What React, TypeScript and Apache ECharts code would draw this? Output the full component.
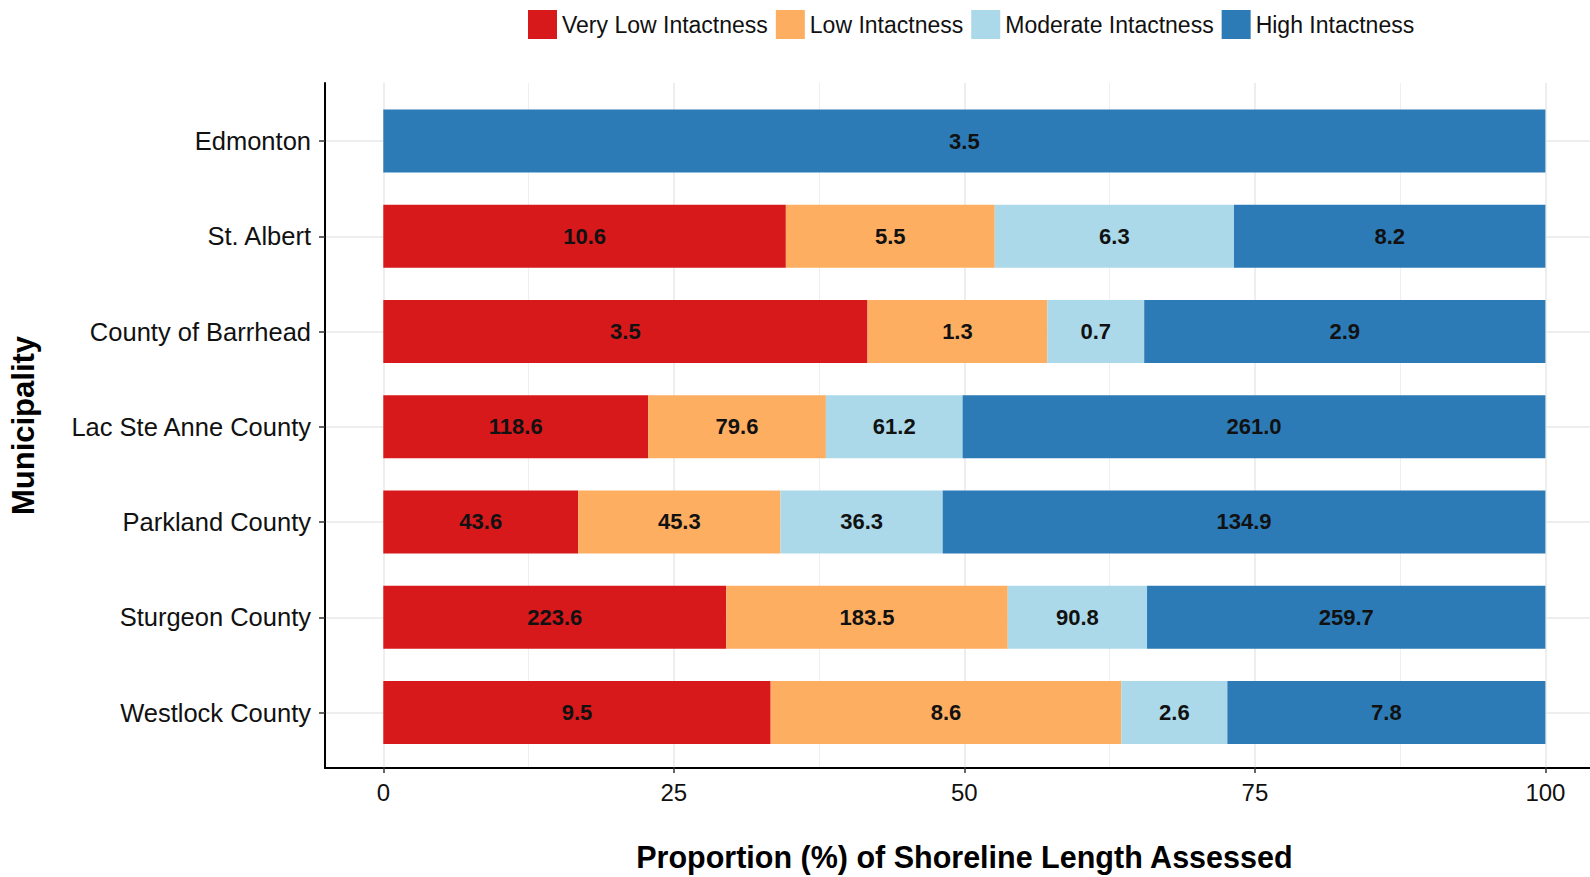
import React, { useEffect, useRef } from "react";
import * as echarts from "echarts";

const categories = [
  "Edmonton",
  "St. Albert",
  "County of Barrhead",
  "Lac Ste Anne County",
  "Parkland County",
  "Sturgeon County",
  "Westlock County",
];
const seriesNames = ["Very Low Intactness", "Low Intactness", "Moderate Intactness", "High Intactness"];
const veryLow = [0, 10.6, 3.5, 118.6, 43.6, 223.6, 9.5];
const low = [0, 5.5, 1.3, 79.6, 45.3, 183.5, 8.6];
const moderate = [0, 6.3, 0.7, 61.2, 36.3, 90.8, 2.6];
const high = [3.5, 8.2, 2.9, 261.0, 134.9, 259.7, 7.8];
const xTicks = [0, 25, 50, 75, 100];
const colors = ["#d7191c", "#fdae61", "#abd9e9", "#2c7bb6"];

const FONT = "'Liberation Sans', Arial, Helvetica, sans-serif";

export default function App() {
  const ref = useRef<HTMLDivElement>(null);
  useEffect(() => {
    if (!ref.current) return;
    const chart = echarts.init(ref.current, null, { renderer: "svg" });
    const raw = [veryLow, low, moderate, high];
    const totals = categories.map((_, i) => raw.reduce((s, arr) => s + arr[i], 0));
    const gridLineColor = "#e8e8e8";

    chart.setOption({
      animation: false,
      backgroundColor: "#ffffff",
      textStyle: { fontFamily: FONT },
      legend: {
        data: seriesNames,
        left: 523,
        top: 5,
        itemWidth: 29,
        itemHeight: 29,
        itemGap: 8,
        icon: "rect",
        textStyle: { fontSize: 23, color: "#111", fontFamily: FONT },
      },
      grid: [
        { left: 325, right: 0, top: 83, bottom: 109 },
        { left: 383.3, right: 44.6, top: 83, bottom: 109 },
        { left: 325, right: 0, top: 141, bottom: 164.5 },
        { left: 383.3, right: 44.6, top: 93.4, bottom: 116.9 },
      ],
      xAxis: [
        {
          gridIndex: 0,
          type: "value",
          min: 0,
          max: 1,
          axisLine: { show: true, lineStyle: { color: "#000", width: 2 } },
          axisTick: { show: false },
          axisLabel: { show: false },
          splitLine: { show: false },
        },
        {
          gridIndex: 1,
          type: "value",
          min: xTicks[0],
          max: xTicks[xTicks.length - 1],
          interval: 25,
          axisLine: { show: false },
          axisTick: { show: true, length: 6, lineStyle: { color: "#333", width: 1.5 } },
          axisLabel: { fontSize: 24, color: "#111", margin: 13, fontFamily: FONT },
          splitLine: { show: true, lineStyle: { color: gridLineColor, width: 1.5 } },
          minorTick: { show: false, splitNumber: 2 },
          minorSplitLine: { show: true, lineStyle: { color: "#efefef", width: 1 } },
          name: "Proportion (%) of Shoreline Length Assessed",
          nameLocation: "middle",
          nameGap: 74,
          nameTextStyle: { fontSize: 30.5, fontWeight: "bold", color: "#000", fontFamily: FONT },
        },
        { gridIndex: 2, type: "value", show: false },
        { gridIndex: 3, type: "value", min: 0, max: 100, show: false },
      ],
      yAxis: [
        {
          gridIndex: 0,
          type: "value",
          min: 0,
          max: 1,
          axisLine: { show: true, lineStyle: { color: "#000", width: 2 } },
          axisTick: { show: false },
          axisLabel: { show: false },
          splitLine: { show: false },
          name: "Municipality",
          nameLocation: "middle",
          nameGap: 286,
          nameTextStyle: { fontSize: 31, fontWeight: "bold", color: "#000", fontFamily: FONT },
        },
        { gridIndex: 1, type: "value", show: false },
        {
          gridIndex: 2,
          type: "category",
          data: categories,
          inverse: true,
          boundaryGap: false,
          axisLine: { show: false },
          axisTick: { show: true, length: 6, lineStyle: { color: "#333", width: 1.5 } },
          axisLabel: { fontSize: 25.5, color: "#111", margin: 14, fontFamily: FONT },
          splitLine: { show: true, lineStyle: { color: gridLineColor, width: 1.5 } },
        },
        { gridIndex: 3, type: "category", data: categories, inverse: true, show: false },
      ],
      series: seriesNames.map((name, si) => ({
        name,
        type: "bar",
        stack: "total",
        xAxisIndex: 3,
        yAxisIndex: 3,
        barWidth: 63,
        itemStyle: { color: colors[si] },
        data: raw[si].map((v, i) => (totals[i] ? (v / totals[i]) * 100 : 0)),
        label: {
          show: true,
          position: "inside",
          fontSize: 22,
          fontWeight: "bold",
          color: "#111",
          fontFamily: FONT,
          formatter: (p: any) => {
            const v = raw[si][p.dataIndex];
            return v > 0 ? v.toFixed(1) : "";
          },
        },
      })),
    });
    return () => chart.dispose();
  }, []);
  return (
    <div
      ref={ref}
      style={{ position: "absolute", left: 0, top: 0, width: 1590, height: 877, overflow: "hidden" }}
    />
  );
}
